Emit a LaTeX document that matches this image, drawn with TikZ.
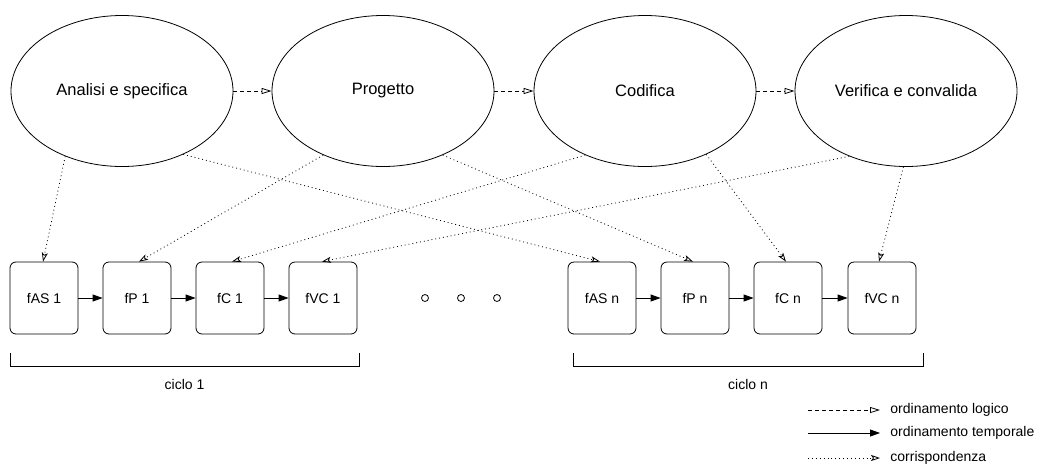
\documentclass[tikz,border=0pt]{standalone}
\usepackage{fontspec}
\setmainfont{Liberation Sans}
\usetikzlibrary{shapes.geometric,arrows.meta}
\begin{document}
\begin{tikzpicture}[x=1pt,y=-1pt,line width=0.8pt,
  phase/.style={ellipse,draw,minimum width=222pt,minimum height=151pt,inner sep=0pt,
    font=\fontsize{16.5}{19}\selectfont},
  stepbox/.style={draw,rectangle,rounded corners=6pt,minimum width=68pt,minimum height=72pt,
    inner sep=0pt,font=\fontsize{14}{17}\selectfont},
  lbl/.style={font=\fontsize{14}{17}\selectfont,inner sep=0pt},
  logico/.style={dash pattern=on 4pt off 3pt,-{Triangle[open,length=10pt,width=6pt]}},
  temporale/.style={-{Triangle[length=10pt,width=7pt]}},
  corr/.style={dash pattern=on 0.9pt off 3pt,-{Stealth[open,length=9pt,width=6pt,inset=2pt]}},
  dot/.style={circle,draw,minimum size=7pt,inner sep=0pt}]
\useasboundingbox (0,0) rectangle (1038,469);

% phases
\node[phase] (A) at (122,91) {Analisi e specifica};
\node[phase] (P) at (383,91) {Progetto};
\node[phase] (C) at (645,91) {Codifica};
\node[phase] (V) at (906,91) {Verifica e convalida};

\draw[logico] (A.east) -- (P.west);
\draw[logico] (P.east) -- (C.west);
\draw[logico] (C.east) -- (V.west);

% first cycle
\node[stepbox] (as1) at (44,298) {fAS 1};
\node[stepbox] (p1)  at (137,298) {fP 1};
\node[stepbox] (c1)  at (230,298) {fC 1};
\node[stepbox] (vc1) at (323,298) {fVC 1};

% last cycle
\node[stepbox] (asn) at (602,298) {fAS n};
\node[stepbox] (pn)  at (695,298) {fP n};
\node[stepbox] (cn)  at (788,298) {fC n};
\node[stepbox] (vcn) at (882,298) {fVC n};

\draw[temporale] (as1) -- (p1);
\draw[temporale] (p1) -- (c1);
\draw[temporale] (c1) -- (vc1);
\draw[temporale] (asn) -- (pn);
\draw[temporale] (pn) -- (cn);
\draw[temporale] (cn) -- (vcn);

% ellipsis between cycles
\node[dot] (d1) at (425,298) {};
\node[dot] (d2) at (461,298) {};
\node[dot] (d3) at (497,298) {};

% correspondences phase -> step
\draw[corr] (A.229) -- (as1.north -| 43,0);
\draw[corr] (A.314) -- (asn.north -| 600,0);
\draw[corr] (P.227) -- (p1.north -| 139,0);
\draw[corr] (P.313) -- (pn.north -| 693,0);
\draw[corr] (C.227) -- (c1.north -| 232,0);
\draw[corr] (C.314) -- (cn.north -| 786,0);
\draw[corr] (V.229) -- (vc1.north -| 322,0);
\draw[corr] (V.268.5) -- (vcn.north -| 879,0);

% cycle brackets
\coordinate (b1l) at (10,353);
\coordinate (b1r) at (359,353);
\coordinate (bnl) at (573,353);
\coordinate (bnr) at (923,353);
\draw[line width=0.7pt] (b1l) -- ++(0,13) -| (b1r);
\draw[line width=0.7pt] (bnl) -- ++(0,13) -| (bnr);
\node[lbl] (k1) at (184.5,384) {ciclo 1};
\node[lbl] (kn) at (748,384) {ciclo n};

% legend
\coordinate (l1a) at (808,410); \coordinate (l1b) at (880,410);
\coordinate (l2a) at (808,433); \coordinate (l2b) at (880,433);
\coordinate (l3a) at (808,458); \coordinate (l3b) at (880,458);
\draw[logico] (l1a) -- (l1b);
\draw[temporale] (l2a) -- (l2b);
\draw[corr] (l3a) -- (l3b);
\node[lbl,anchor=west] (t1) at (890,410) {ordinamento logico};
\node[lbl,anchor=west] (t2) at (890,433) {ordinamento temporale};
\node[lbl,anchor=west] (t3) at (890,458) {corrispondenza};
\end{tikzpicture}
\end{document}
